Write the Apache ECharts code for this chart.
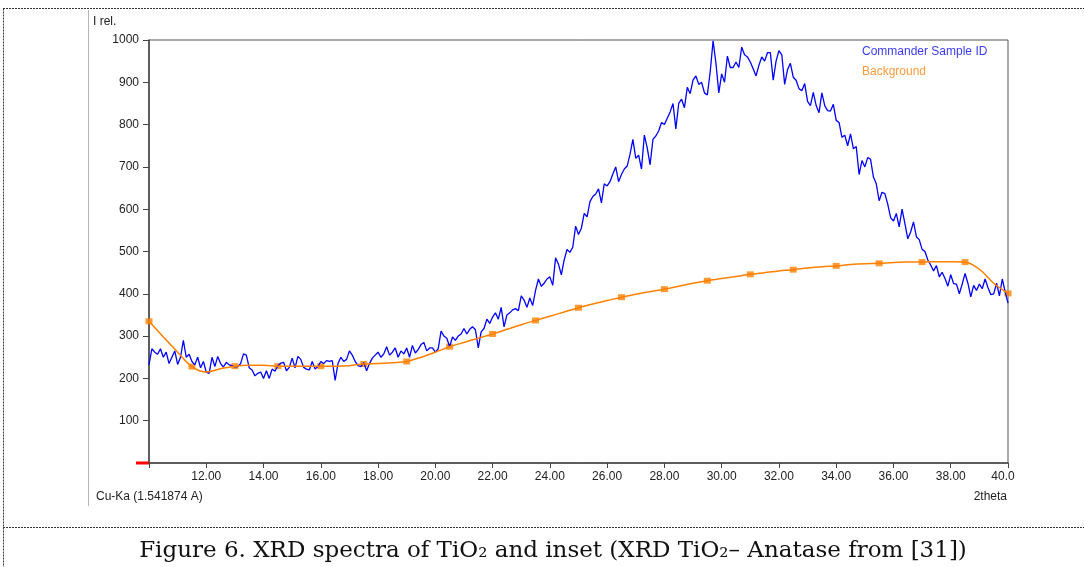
<!DOCTYPE html>
<html>
<head>
<meta charset="utf-8">
<script src="https://cdn.jsdelivr.net/npm/echarts@6/dist/echarts.min.js"></script>
<style>
  html, body { margin: 0; padding: 0; background: #fff; }
  #chart { width: 1084px; height: 567px; }
</style>
</head>
<body>
<div id="chart"></div>
<script>
// ----------------------
// Dados
// ----------------------
const THETA_START = 10;
const THETA_END = 40;
const SAMPLE_STEP = 0.1;     // passo da curva azul (2theta)
const BG_STEP = 0.5;         // passo da curva de fundo
const BG_MARK_EVERY = 3;     // um marcador a cada 1.5 graus

// Commander Sample ID, 10.0 .. 40.0
const sampleValues = [
  232, 270, 262, 257, 270, 250, 262, 235, 250, 265,
  233, 250, 290, 250, 257, 240, 232, 250, 225, 240,
  215, 212, 250, 228, 252, 235, 227, 238, 232, 230,
  227, 228, 235, 258, 255, 225, 220, 206, 212, 215,
  200, 218, 200, 222, 217, 230, 236, 238, 218, 226,
  248, 225, 252, 245, 226, 222, 220, 240, 222, 228,
  240, 235, 242, 240, 242, 195, 235, 250, 240, 245,
  265, 255, 240, 230, 228, 237, 218, 235, 248, 255,
  262, 250, 258, 275, 255, 262, 272, 250, 265, 258,
  272, 250, 278, 260, 268, 280, 285, 265, 272, 272,
  262, 270, 312, 300, 295, 275, 298, 290, 300, 305,
  318, 305, 316, 322, 315, 272, 310, 318, 340, 330,
  345, 355, 340, 368, 322, 350, 355, 362, 365, 360,
  395, 385, 368, 390, 372, 408, 435, 418, 425, 435,
  440, 420, 485, 470, 445, 480, 505, 498, 510, 560,
  540, 555, 590, 582, 618, 630, 636, 648, 615, 660,
  655, 665, 683, 700, 665, 682, 695, 702, 730, 765,
  720, 728, 695, 775, 745, 705, 765, 773, 785, 805,
  800, 815, 830, 850, 790, 850, 860, 840, 888, 873,
  905, 915, 895, 900, 875, 870, 925, 998, 945, 875,
  920, 900, 962, 935, 935, 948, 935, 983, 965, 960,
  948, 932, 915, 940, 960, 950, 970, 970, 905, 950,
  975, 965, 895, 930, 945, 912, 905, 885, 880, 897,
  855, 845, 876, 845, 828, 875, 845, 833, 832, 848,
  810, 805, 770, 775, 750, 778, 743, 748, 682, 715,
  700, 722, 718, 676, 660, 620, 640, 637, 612, 580,
  572, 590, 558, 600, 566, 530, 546, 570, 535, 528,
  505, 500, 480, 468, 454, 467, 440, 451, 436, 418,
  445, 424, 423, 400, 423, 448, 425, 393, 420, 408,
  423, 412, 435, 415, 398, 400, 425, 395, 435, 405,
  378
];

// Background, 10.0 .. 40.0 a cada 0.5
const backgroundValues = [
  335, 298, 262, 228, 215, 223, 229, 231, 231, 229,
  229, 229, 229, 229, 230, 234, 235, 237, 240, 250,
  262, 275, 285, 295, 305, 316, 327, 337, 347, 357,
  367, 376, 384, 392, 399, 405, 411, 418, 425, 431,
  436, 441, 446, 450, 454, 457, 461, 464, 466, 469,
  471, 472, 474, 475, 475, 476, 476, 475, 458, 425,
  401
];

const yTicks = [100, 200, 300, 400, 500, 600, 700, 800, 900, 1000];

// ----------------------
// Cores
// ----------------------
const COLOR_SAMPLE = '#0000ff';
const COLOR_BG = '#ff8000';
const COLOR_AXIS = '#444';
const COLOR_TEXT = '#222';
const FONT = 'Liberation Sans, Arial, sans-serif';

// pares [2theta, valor]
const samplePoints = sampleValues.map((v, i) => [+(THETA_START + i * SAMPLE_STEP).toFixed(2), v]);
const bgPoints = backgroundValues.map((v, i) => [THETA_START + i * BG_STEP, v]);
const bgMarks = bgPoints.filter((p, i) => i % BG_MARK_EVERY === 0);

function dashed(x1, y1, x2, y2) {
  return {
    type: 'line', silent: true,
    shape: { x1, y1, x2, y2 },
    style: { stroke: '#333', lineWidth: 1, lineDash: [2, 1] }
  };
}

function label(text, x, y, align, extra) {
  return {
    type: 'text', silent: true, x, y,
    style: Object.assign({ text, fill: COLOR_TEXT, font: '12px ' + FONT, align: align || 'left', verticalAlign: 'middle' }, extra || {})
  };
}

const chart = echarts.init(document.getElementById('chart'), null, { renderer: 'canvas' });
chart.setOption({
  animation: false,
  backgroundColor: '#fff',
  grid: { left: 149, top: 40, right: 76, bottom: 104, show: true, borderColor: '#555', borderWidth: 1 },
  legend: {
    orient: 'vertical', left: 856, top: 46, padding: 0,
    itemWidth: 0, itemHeight: 0, itemGap: 8, selectedMode: false,
    textStyle: { fontSize: 12, fontFamily: FONT },
    data: [
      { name: 'Commander Sample ID', textStyle: { color: '#3a3aff' } },
      { name: 'Background', textStyle: { color: '#ff9a3a' } }
    ]
  },
  xAxis: {
    type: 'value', min: THETA_START, max: THETA_END, interval: 2,
    axisLine: { lineStyle: { color: COLOR_AXIS, width: 1.5 } },
    axisTick: { length: 5, lineStyle: { color: COLOR_AXIS } },
    axisLabel: {
      color: COLOR_TEXT, fontSize: 12, fontFamily: FONT, margin: 8,
      formatter: v => v === THETA_START ? '' : (v === THETA_END ? '40.0   ' : v.toFixed(2))
    },
    splitLine: { show: false }
  },
  yAxis: {
    type: 'value', min: 0, max: 1000, interval: 100,
    axisLine: { show: true, lineStyle: { color: COLOR_AXIS, width: 1.5 } },
    axisTick: { show: true, length: 6, lineStyle: { color: COLOR_AXIS } },
    axisLabel: {
      color: COLOR_TEXT, fontSize: 12, fontFamily: FONT, margin: 10,
      formatter: v => yTicks.includes(v) ? String(v) : ''
    },
    splitLine: { show: false }
  },
  series: [
    {
      name: 'Commander Sample ID', type: 'line', data: samplePoints,
      showSymbol: false, clip: true,
      lineStyle: { color: COLOR_SAMPLE, width: 1.3 },
      itemStyle: { color: COLOR_SAMPLE }
    },
    {
      name: 'Background', type: 'line', data: bgPoints,
      smooth: 0.35, showSymbol: false, clip: true,
      lineStyle: { color: COLOR_BG, width: 1.5 },
      itemStyle: { color: COLOR_BG }
    },
    {
      name: 'Background', type: 'scatter', data: bgMarks,
      symbol: 'rect', symbolSize: [7, 6], clip: false,
      itemStyle: { color: COLOR_BG }
    }
  ],
  graphic: [
    dashed(3, 8.5, 1084, 8.5),
    dashed(3.5, 8.5, 3.5, 567),
    dashed(3, 527.5, 1084, 527.5),
    {
      type: 'line', silent: true,
      shape: { x1: 88.5, y1: 10, x2: 88.5, y2: 506 },
      style: { stroke: '#b5b5b5', lineWidth: 1 }
    },
    {
      type: 'line', silent: true, z: 10,
      shape: { x1: 136, y1: 463, x2: 149, y2: 463 },
      style: { stroke: '#ff0000', lineWidth: 3 }
    },
    label('I rel.', 93, 22),
    label('Cu-Ka (1.541874 A)', 96, 497),
    label('2theta', 1007, 497, 'right'),
    label('Figure 6. XRD spectra of TiO\u2082 and inset (XRD TiO\u2082\u2013 Anatase from [31])', 553, 551, 'center',
      { font: '23px "DejaVu Serif", serif', fill: '#111' })
  ]
});

window.addEventListener('resize', () => chart.resize());
</script>
</body>
</html>
